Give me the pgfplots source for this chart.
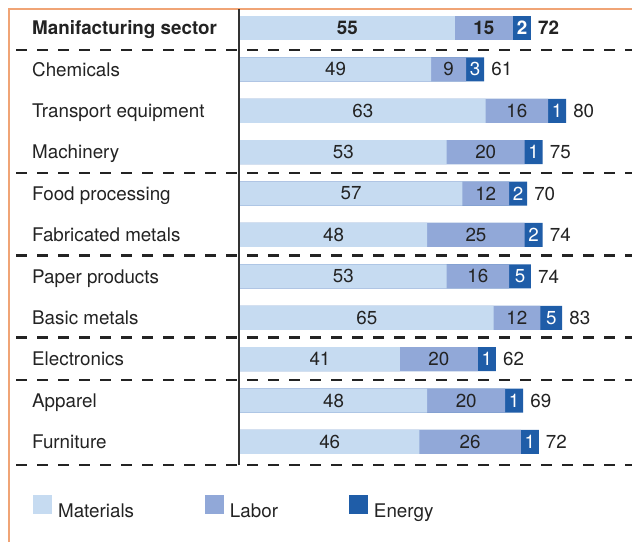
\documentclass[border=0pt]{standalone}
\usepackage{fontspec}
\setmainfont{TeX Gyre Heros}
\usepackage{pgfplots}
\usepackage{pgfplotstable}
\pgfplotsset{compat=1.18}

\definecolor{matc}{RGB}{198,219,241}
\definecolor{labc}{RGB}{145,168,216}
\definecolor{enc}{RGB}{31,93,168}
\definecolor{txt}{RGB}{35,35,35}
\definecolor{framec}{RGB}{240,164,118}

% shares of cost; enw is the drawn width of the small energy block, tot the printed total
\pgfplotstableread{
idx mat lab en  enw tot
0   55  15  2   4.6 72
}\sector
\pgfplotstableread{
idx mat lab en  enw tot
1   49  9   3   4.6 61
2   63  16  1   4.6 80
3   53  20  1   4.6 75
4   57  12  2   4.6 70
5   48  25  2   4.6 74
6   53  16  5   5.6 74
7   65  12  5   5.6 83
8   41  20  1   4.6 62
9   48  20  1   4.6 69
10  46  26  1   4.6 72
}\subs

\newcommand{\lfont}{\fontsize{18.8}{22}\selectfont}

% bars and their numbers for one table
\newcommand{\costbars}[2]{%
  \addplot[bar, fill=enc] table[x expr=\thisrow{mat}+\thisrow{lab}+\thisrow{enw}, y=idx]{#1};
  \addplot[bar, fill=labc] table[x expr=\thisrow{mat}+\thisrow{lab}, y=idx]{#1};
  \addplot[bar, fill=matc] table[x=mat, y=idx]{#1};
  \addplot[lbl, #2] table[x expr=\thisrow{mat}/2, y=idx, meta=mat]{#1};
  \addplot[lbl, #2] table[x expr=\thisrow{mat}+\thisrow{lab}/2, y=idx, meta=lab]{#1};
  \addplot[lbl, #2, every node near coord/.append style={text=white}]
    table[x expr=\thisrow{mat}+\thisrow{lab}+\thisrow{enw}/2, y=idx, meta=en]{#1};
  \addplot[lbl, #2, every node near coord/.append style={anchor=west, xshift=7pt}]
    table[x expr=\thisrow{mat}+\thisrow{lab}+\thisrow{enw}, y=idx, meta=tot]{#1};
}

\begin{document}
\begin{tikzpicture}[x=1pt,y=1pt]
\useasboundingbox (0,0) rectangle (632,542);
\fill[white] (0,0) rectangle (632,542);
\draw[framec, line width=1.4pt] (9,0) -- (9,533) -- (632,533);

\begin{axis}[
  at={(240pt,77pt)}, anchor=south west,
  scale only axis, width=392pt, height=456pt,
  xmin=0, xmax=100.5, ymin=-0.459, ymax=10.556, y dir=reverse,
  clip=false,
  axis line style={draw=none},
  major tick length=0pt,
  xtick=\empty,
  ytick={0,...,10},
  yticklabels={\textbf{Manifacturing sector},Chemicals,Transport equipment,Machinery,Food processing,Fabricated metals,Paper products,Basic metals,Electronics,Apparel,Furniture},
  yticklabel style={anchor=base west, xshift=-208pt, yshift=-6.7pt, inner sep=0pt, font=\lfont, text=txt},
  legend columns=3,
  legend cell align=left,
  legend style={at={(-0.528,-0.0921)}, anchor=west, draw=none, fill=none,
    inner sep=0pt, font=\lfont, text=txt,
    nodes={inner sep=0pt},
    /tikz/every odd column/.append style={column sep=6.5pt},
    /tikz/every even column/.append style={column sep=71pt}},
  lbl/.style={only marks, mark=none,
    point meta=explicit symbolic, forget plot,
    nodes near coords={\pgfplotspointmeta},
    every node near coord/.style={anchor=center, inner sep=0pt, font=\lfont, text=txt}},
  bold/.style={every node near coord/.append style={font=\lfont\bfseries}},
  plain/.style={},
  bar/.style={xbar, bar width=24pt, bar shift=0pt, draw=none, forget plot},
]
\addlegendimage{legend image code/.code={\fill[matc] (0pt,-2.5pt) rectangle (18pt,15.5pt);}}
\addlegendentry{Materials}
\addlegendimage{legend image code/.code={\fill[labc] (0pt,-2.5pt) rectangle (18pt,15.5pt);}}
\addlegendentry{Labor}
\addlegendimage{legend image code/.code={\fill[enc] (0pt,-2.5pt) rectangle (18pt,15.5pt);}}
\addlegendentry{Energy}

\costbars{\sector}{bold}
\costbars{\subs}{plain}
\end{axis}

\draw[txt, line width=2.8pt, dash pattern=on 11pt off 10pt]
  foreach \py in {50,173,255.5,337.5,380,465} {(16,542-\py) -- (632,542-\py)};
\draw[black!80, line width=2pt] (239,533) -- (239,77);
\end{tikzpicture}
\end{document}
